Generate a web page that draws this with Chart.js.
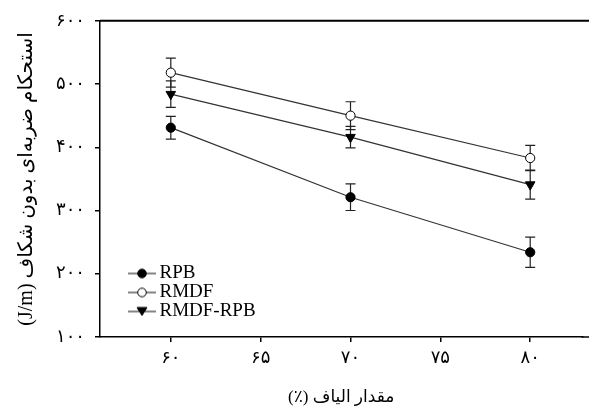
<!DOCTYPE html>
<html>
<head>
<meta charset="utf-8">
<script src="https://cdn.jsdelivr.net/npm/chart.js@4/dist/chart.umd.min.js"></script>
<style>
  html, body { margin: 0; padding: 0; background: #fff; overflow: hidden; }
  #wrap { width: 589px; height: 414px; position: relative; }
  canvas { display: block; }
</style>
</head>
<body>
<div id="wrap"><canvas id="impactChart"></canvas></div>
<script>
// fibre content (%)
const fibreContent = [60, 70, 80];

// unnotched impact strength (J/m) and error bars
const rpbValues = [431, 321, 234];
const rpbErr = [18, 21, 24];
const rmdfValues = [518, 450, 383];
const rmdfErr = [23, 22, 20];
const rmdfRpbValues = [484, 416, 341];
const rmdfRpbErr = [21, 17, 23];

const seriesNames = ['RPB', 'RMDF', 'RMDF-RPB'];

// tick values and their Persian labels
const xTickValues = [60, 65, 70, 75, 80];
const xTickLabels = ['۶۰', '۶۵', '۷۰', '۷۵', '۸۰'];
const yTickValues = [100, 200, 300, 400, 500, 600];
const yTickLabels = ['۱۰۰', '۲۰۰', '۳۰۰', '۴۰۰', '۵۰۰', '۶۰۰'];

const yTitle = '\u202Bاستحکام ضربه‌ای بدون شکاف (J/m)\u202C';
const xTitle = '\u202Bمقدار الیاف (٪)\u202C';

const fontFamily = "'Liberation Serif', 'DejaVu Sans', serif";

// legend swatch: short line with marker on it (left part transparent)
function makeSwatch(style) {
    const c = document.createElement('canvas');
    c.width = 62;
    c.height = 12;
    const g = c.getContext('2d');
    g.strokeStyle = '#333';
    g.lineWidth = 1.2;
    g.beginPath();
    g.moveTo(34, 6);
    g.lineTo(62, 6);
    g.stroke();
    g.fillStyle = style === 'open' ? '#fff' : '#000';
    g.strokeStyle = '#000';
    g.lineWidth = 1;
    g.beginPath();
    if (style === 'tri') {
        g.moveTo(43, 2);
        g.lineTo(53, 2);
        g.lineTo(48, 10);
        g.closePath();
    } else {
        g.arc(48, 6, 4.3, 0, Math.PI * 2);
    }
    g.fill();
    g.stroke();
    return c;
}
const swatches = [makeSwatch('filled'), makeSwatch('open'), makeSwatch('tri')];

const errorSets = [rpbErr, rmdfErr, rmdfRpbErr];

// draws the vertical error bars from the data arrays
const errorBars = {
    id: 'errorBars',
    beforeDatasetsDraw(chart) {
        const ctx = chart.ctx;
        const xs = chart.scales.x;
        const ys = chart.scales.y;
        ctx.save();
        ctx.strokeStyle = '#222';
        ctx.lineWidth = 1.2;
        chart.data.datasets.forEach((ds, i) => {
            ds.data.forEach((pt, j) => {
                const e = errorSets[i][j];
                const x = xs.getPixelForValue(pt.x);
                const yTop = ys.getPixelForValue(pt.y + e);
                const yBot = ys.getPixelForValue(pt.y - e);
                ctx.beginPath();
                ctx.moveTo(x, yTop);
                ctx.lineTo(x, yBot);
                ctx.moveTo(x - 5, yTop);
                ctx.lineTo(x + 5, yTop);
                ctx.moveTo(x - 5, yBot);
                ctx.lineTo(x + 5, yBot);
                ctx.stroke();
            });
        });
        ctx.restore();
    }
};

// white background, frame lines running off the right edge, legend nudged down
const frame = {
    id: 'frame',
    afterLayout(chart) {
        if (chart.legend) {
            chart.legend.bottom = chart.chartArea.bottom - 16;
        }
    },
    beforeDraw(chart) {
        const ctx = chart.ctx;
        ctx.save();
        ctx.fillStyle = '#fff';
        ctx.fillRect(0, 0, chart.width, chart.height);
        ctx.restore();
    },
    afterDraw(chart) {
        const a = chart.chartArea;
        const ctx = chart.ctx;
        ctx.save();
        ctx.strokeStyle = '#000';
        ctx.lineWidth = 2;
        ctx.beginPath();
        ctx.moveTo(a.left, a.top);
        ctx.lineTo(chart.width, a.top);
        ctx.stroke();
        ctx.lineWidth = 1.5;
        ctx.beginPath();
        ctx.moveTo(a.right - 1, a.bottom);
        ctx.lineTo(chart.width, a.bottom);
        ctx.stroke();
        ctx.restore();
    }
};

function toPoints(values) {
    return fibreContent.map((x, i) => ({ x: x, y: values[i] }));
}

const ctx = document.getElementById('impactChart').getContext('2d');
new Chart(ctx, {
    type: 'line',
    data: {
        datasets: [
            {
                label: seriesNames[0],
                data: toPoints(rpbValues),
                borderColor: '#333',
                borderWidth: 1.2,
                pointStyle: 'circle',
                pointRadius: 4.6,
                pointBackgroundColor: '#000',
                pointBorderColor: '#000',
                pointBorderWidth: 1,
            },
            {
                label: seriesNames[1],
                data: toPoints(rmdfValues),
                borderColor: '#333',
                borderWidth: 1.2,
                pointStyle: 'circle',
                pointRadius: 4.6,
                pointBackgroundColor: '#fff',
                pointBorderColor: '#000',
                pointBorderWidth: 1,
            },
            {
                label: seriesNames[2],
                data: toPoints(rmdfRpbValues),
                borderColor: '#333',
                borderWidth: 1.2,
                pointStyle: 'triangle',
                pointRotation: 180,
                pointRadius: 5.5,
                pointBackgroundColor: '#000',
                pointBorderColor: '#000',
                pointBorderWidth: 1,
            },
        ],
    },
    options: {
        responsive: true,
        maintainAspectRatio: false,
        animation: false,
        layout: { padding: { top: 20, right: 0, left: 0, bottom: 0 } },
        scales: {
            x: {
                type: 'linear',
                min: 56.06,
                max: 82.91,
                afterBuildTicks: (scale) => {
                    scale.ticks = xTickValues.map(v => ({ value: v }));
                },
                afterFit: (scale) => {
                    scale.height = 77;
                    scale.paddingLeft = 0;
                    scale.paddingRight = 0;
                },
                ticks: {
                    color: '#000',
                    font: { family: fontFamily, size: 18 },
                    padding: 5,
                    maxRotation: 0,
                    callback: (v) => xTickLabels[xTickValues.indexOf(v)],
                },
                grid: { drawOnChartArea: false, drawTicks: true, tickLength: 5, color: '#000', lineWidth: 1.5 },
                border: { display: true, color: '#000', width: 1.5 },
                title: {
                    display: true,
                    text: xTitle,
                    color: '#000',
                    font: { family: fontFamily, size: 17 },
                    padding: { top: 0, bottom: 6 },
                },
            },
            y: {
                type: 'linear',
                min: 100,
                max: 600,
                afterBuildTicks: (scale) => {
                    scale.ticks = yTickValues.map(v => ({ value: v }));
                },
                afterFit: (scale) => { scale.width = 100; },
                ticks: {
                    color: '#000',
                    font: { family: fontFamily, size: 18 },
                    padding: 10,
                    callback: (v) => yTickLabels[yTickValues.indexOf(v)],
                },
                grid: { drawOnChartArea: false, drawTicks: true, tickLength: 5, color: '#000', lineWidth: 1.5 },
                border: { display: true, color: '#000', width: 1.5 },
                title: {
                    display: true,
                    text: yTitle,
                    color: '#000',
                    font: { family: fontFamily, size: 20 },
                    padding: { top: 15, bottom: 0 },
                },
            },
        },
        plugins: {
            legend: {
                position: 'chartArea',
                align: 'end',
                labels: {
                    color: '#000',
                    font: { family: fontFamily, size: 19 },
                    usePointStyle: true,
                    pointStyleWidth: 50,
                    padding: 0,
                    generateLabels: (chart) => chart.data.datasets.map((ds, i) => ({
                        text: ds.label,
                        pointStyle: swatches[i],
                        fontColor: '#000',
                        strokeStyle: '#000',
                        fillStyle: '#000',
                        lineWidth: 0,
                        datasetIndex: i,
                    })),
                },
            },
            tooltip: { enabled: false },
        },
    },
    plugins: [frame, errorBars],
});
</script>
</body>
</html>
